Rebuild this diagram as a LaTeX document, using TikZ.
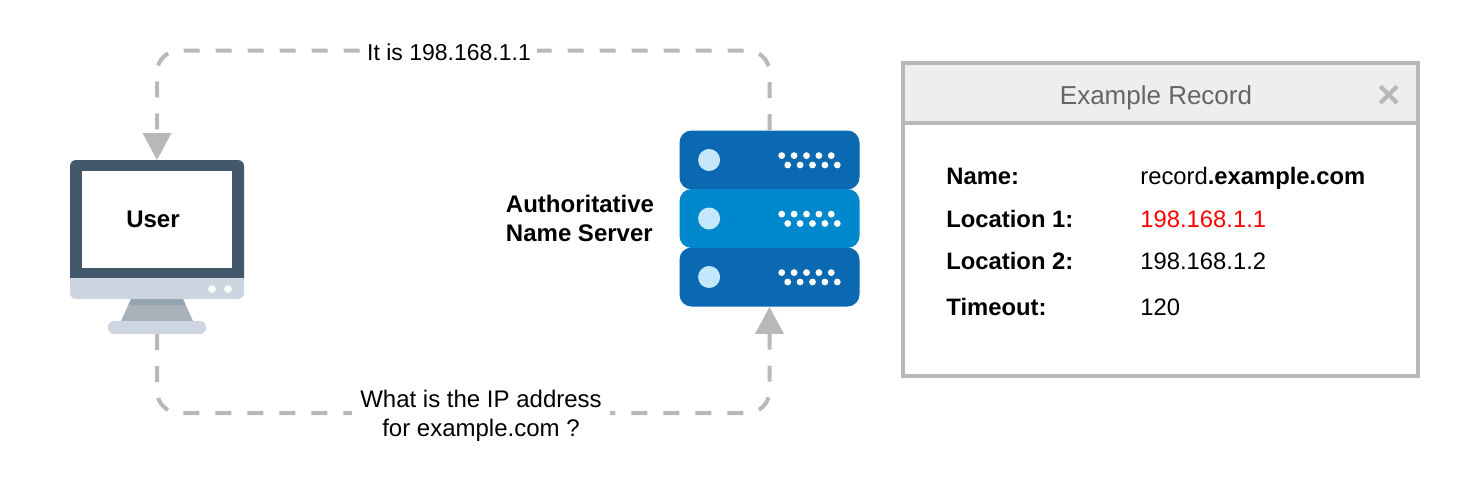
\documentclass[tikz,border=0pt]{standalone}
\usepackage{fontspec}
\setmainfont{Liberation Sans}
\usetikzlibrary{arrows.meta}
\definecolor{linegray}{HTML}{B8B8B8}
\definecolor{screendark}{HTML}{43596B}
\definecolor{basegray}{HTML}{CDD5E0}
\definecolor{standgray}{HTML}{A9B2BA}
\definecolor{standdark}{HTML}{94A5B0}
\definecolor{serverdark}{HTML}{0B69B1}
\definecolor{serverlight}{HTML}{0088CC}
\definecolor{ledblue}{HTML}{C5E7FB}
\definecolor{headgray}{HTML}{EEEEEE}
\tikzset{
  route/.style={draw=linegray, line width=2pt, dash pattern=on 8pt off 8pt, rounded corners=11pt},
  tip/.style={-{Triangle[length=13.5pt, width=14pt]}},
  rack/.style={rounded corners=6pt, minimum width=90pt, minimum height=29.5pt, inner sep=0pt},
  lbl/.style={font=\fontsize{12}{14.5}\selectfont, inner sep=1pt},
  key/.style={inner sep=0pt, font=\fontsize{11.9}{14.5}\selectfont\bfseries, anchor=base west},
  val/.style={inner sep=0pt, font=\fontsize{11.9}{14.5}\selectfont, anchor=base west},
}
\begin{document}
\begin{tikzpicture}[x=0.5pt, y=-0.5pt]
  \useasboundingbox (0,0) rectangle (1458,482);
  % user
  \fill[screendark, rounded corners=3pt] (70,160) rectangle (244,285);
  \fill[basegray, rounded corners=3pt] (70,278) rectangle (244,299);
  \fill[basegray] (70,278) rectangle (244,288);
  \fill[standgray] (131,299) -- (183,299) -- (193,321) -- (121,321) -- cycle;
  \fill[standdark] (131,299) -- (183,299) -- (185.5,305) -- (128.5,305) -- cycle;
  \fill[basegray, rounded corners=3pt] (108,321) rectangle (206,334);
  \fill[white!90!basegray] (212,289) circle (2pt);
  \fill[white!90!basegray] (228,289) circle (2pt);
  \node[fill=white, minimum width=75pt, minimum height=48.5pt, inner sep=0pt] (user) at (157,219) {};
  \node[inner sep=0pt, font=\fontsize{12}{14.5}\selectfont\bfseries] (username) at (153,219.5) {User};
  \coordinate (usertop) at (157,160);
  \coordinate (userbot) at (157,334);
  % server
  \node[rack, fill=serverdark] (rackA) at (769.5,160) {};
  \node[rack, fill=serverdark] (rackC) at (769.5,277) {};
  \node[rack, fill=serverlight] (rackB) at (769.5,218.5) {};
  \foreach \r in {rackA, rackB, rackC} {
    \fill[ledblue] ([xshift=-30.2pt]\r.center) circle (5.5pt);
    \foreach \i in {0,...,4} {
      \fill[white] ([xshift=6.1pt+\i*6.2pt, yshift=2.2pt]\r.center) circle (1.7pt);
      \fill[white] ([xshift=9.1pt+\i*6.2pt, yshift=-2.5pt]\r.center) circle (1.7pt);
    }
  }
  \node[font=\fontsize{12}{14.5}\selectfont\bfseries, align=left, inner sep=0pt] (authname) at (580,218.5) {Authoritative\\Name Server};
  % routes
  \draw[route, tip] (rackA.north) -- (769.5,50.5) -- (157,50.5) -- (usertop);
  \draw[route, tip] (userbot) -- (157,413) -- (769.5,413) -- (rackC.south);
  \node[lbl, fill=white, font=\fontsize{11.5}{14}\selectfont, inner xsep=3pt] (answer) at (449,52) {It is 198.168.1.1};
  \node[lbl, fill=white, align=center, inner xsep=4pt] (question) at (481,416) {What is the IP address\\for example.com ?};
  % record
  \node[draw=linegray, line width=2pt, minimum width=257.5pt, minimum height=156.5pt, inner sep=0pt] (record) at (1160.5,219) {};
  \node[draw=linegray, fill=headgray, line width=2pt, minimum width=257.5pt, minimum height=30pt, inner sep=0pt] (rechead) at (1160.5,92.5) {};
  \node[inner sep=0pt, text=black!60, font=\fontsize{13}{15}\selectfont] (rectitle) at (1156,97.5) {Example Record};
  \node[inner sep=0pt, text=linegray, font=\fontsize{20}{20}\selectfont\bfseries] (recclose) at (1389,96.5) {×};
  \node[key] (n1) at (946,184) {Name:};
  \node[key] (n2) at (946,227) {Location 1:};
  \node[key] (n3) at (946,269) {Location 2:};
  \node[key] (n4) at (946,315) {Timeout:};
  \node[val] (v1) at (1140,184) {record\textbf{.example.com}};
  \node[val, text=red] (v2) at (1140,227) {198.168.1.1};
  \node[val] (v3) at (1140,269) {198.168.1.2};
  \node[val] (v4) at (1140,315) {120};
\end{tikzpicture}
\end{document}
